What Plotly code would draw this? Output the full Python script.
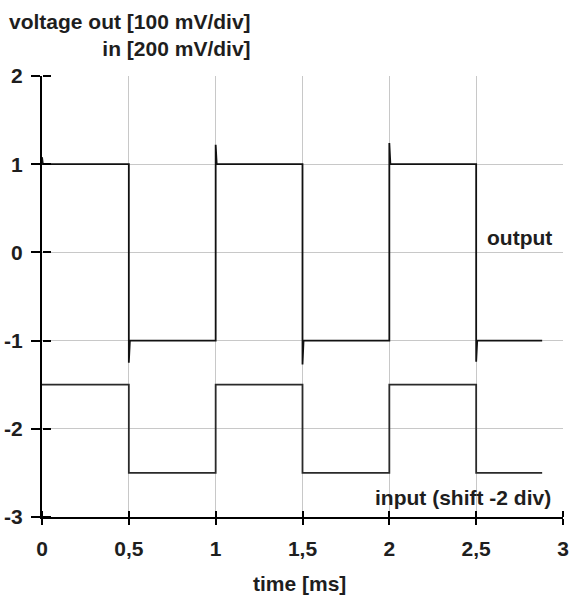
import plotly.graph_objects as go

# ---- data ----
out_t = [0, 0.005, 0.5, 0.5, 0.506, 1.0, 1.0, 1.006, 1.5, 1.5, 1.506,
         2.0, 2.0, 2.006, 2.5, 2.5, 2.506, 2.88]
out_v = [1.08, 1.0, 1.0, -1.25, -1.0, -1.0, 1.22, 1.0, 1.0, -1.27, -1.0,
         -1.0, 1.24, 1.0, 1.0, -1.24, -1.0, -1.0]

in_t = [0, 0.5, 0.5, 1.0, 1.0, 1.5, 1.5, 2.0, 2.0, 2.5, 2.5, 2.88]
in_v = [-1.5, -1.5, -2.5, -2.5, -1.5, -1.5, -2.5, -2.5, -1.5, -1.5, -2.5, -2.5]

x_tickvals = [0, 0.5, 1, 1.5, 2, 2.5, 3]
x_ticktext = ["0", "0,5", "1", "1,5", "2", "2,5", "3"]
y_tickvals = [-3, -2, -1, 0, 1, 2]
y_ticktext = ["-3", "-2", "-1", "0", "1", "2"]

FONT = "Liberation Sans, Arial, sans-serif"
TXT = "#1e1e1e"
FS = 21

fig = go.Figure()
# input drawn on the overlay axes (which supply the inner half of crossing ticks)
fig.add_trace(go.Scatter(x=in_t, y=in_v, mode="lines", xaxis="x2", yaxis="y2",
                         line=dict(color="#2a2a2a", width=1.8), hoverinfo="skip"))
fig.add_trace(go.Scatter(x=out_t, y=out_v, mode="lines",
                         line=dict(color="#111111", width=1.8), hoverinfo="skip"))

tf = dict(family=FONT, size=FS, color=TXT, weight="bold")

fig.update_layout(
    width=569, height=595,
    margin=dict(l=42, r=6, t=76, b=78),
    paper_bgcolor="white", plot_bgcolor="white",
    showlegend=False,
    font=tf,
    xaxis=dict(range=[0, 3], tickvals=x_tickvals, ticktext=x_ticktext,
               showgrid=True, gridcolor="#c8c8c8", gridwidth=1,
               zeroline=False, showline=True, linecolor="black", linewidth=2,
               ticks="outside", ticklen=6, tickwidth=2, tickcolor="black",
               ticklabelstandoff=6, automargin=False, tickfont=tf),
    yaxis=dict(range=[-3, 2], tickvals=y_tickvals, ticktext=y_ticktext,
               showgrid=True, gridcolor="#c8c8c8", gridwidth=1,
               zeroline=False, showline=True, linecolor="black", linewidth=2,
               ticks="outside", ticklen=9, tickwidth=2, tickcolor="black",
               ticklabelstandoff=4, automargin=False, tickfont=tf),
    # overlay axes placed on the bottom / left edges but with their "outside"
    # pointing into the plot -> inner half of the crossing ticks
    xaxis2=dict(range=[0, 3], tickvals=x_tickvals, overlaying="x",
                anchor="free", position=0, side="top",
                showgrid=False, zeroline=False, showline=False,
                showticklabels=False, ticks="outside", ticklen=6, tickwidth=2,
                tickcolor="black", automargin=False),
    yaxis2=dict(range=[-3, 2], tickvals=y_tickvals, overlaying="y",
                anchor="free", position=0, side="right",
                showgrid=False, zeroline=False, showline=False,
                showticklabels=False, ticks="outside", ticklen=8, tickwidth=2,
                tickcolor="black", automargin=False),
    annotations=[
        dict(text="voltage out [100 mV/div]<br>in [200 mV/div]",
             xref="paper", yref="paper", x=(253 - 42) / 521, y=(517 - 8) / 441,
             xanchor="right", yanchor="top", align="right", showarrow=False,
             font=tf),
        dict(text="time [ms]", xref="paper", yref="paper",
             x=0.495, y=(517 - 583) / 441, xanchor="center", yanchor="middle",
             showarrow=False, font=tf),
        dict(text="output", xref="x", yref="y", x=2.55, y=0.17,
             xanchor="left", yanchor="middle", showarrow=False, font=tf),
        dict(text="input (shift -2 div)", xref="x", yref="y", x=1.905, y=-2.78,
             xanchor="left", yanchor="middle", showarrow=False, font=tf),
    ],
)

fig.write_html("out.html")
